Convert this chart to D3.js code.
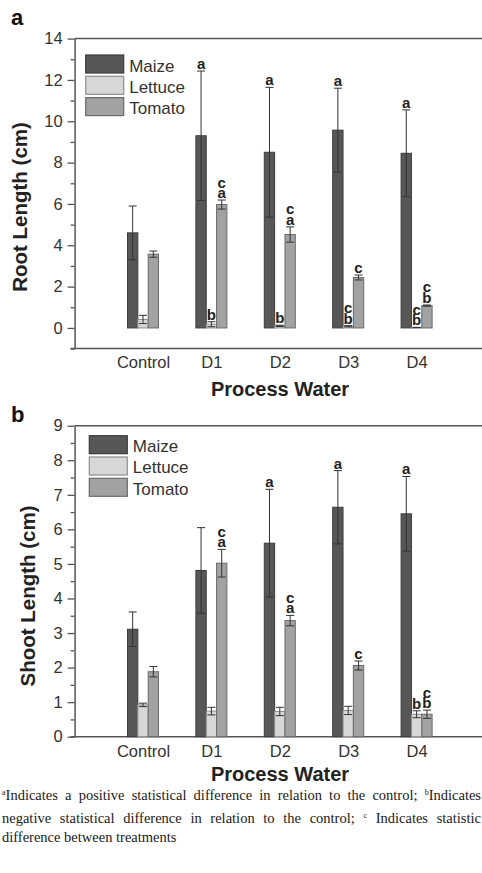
<!DOCTYPE html>
<html>
<head>
<meta charset="utf-8">
<script src="https://cdn.jsdelivr.net/npm/d3@7"></script>
<style>
  body { margin: 0; background: #fff; }
  #wrap { position: relative; width: 482px; height: 873px; overflow: hidden; }
  svg { position: absolute; left: 0; top: 0; }
  .note { position: absolute; left: 2px; width: 479px; font-family: "Liberation Serif", "Times New Roman", serif;
          font-size: 14.5px; line-height: 17px; color: #1a1a1a; white-space: nowrap; }
  .note.just { text-align: justify; text-align-last: justify; white-space: normal; }
  .note sup { font-size: 8px; vertical-align: 5px; line-height: 0; }
</style>
</head>
<body>
<div id="wrap">
<svg width="482" height="873"></svg>
<div class="note just" style="top:787px">
  <sup>a</sup>Indicates a positive statistical difference in relation to the control; <sup>b</sup>Indicates
</div>
<div class="note just" style="top:810px">
  negative statistical difference in relation to the control; <sup>c</sup> Indicates statistic
</div>
<div class="note" style="top:829px">difference between treatments</div>
</div>
<script>
// categories and series
var categories = ["Control", "D1", "D2", "D3", "D4"];
var series = ["Maize", "Lettuce", "Tomato"];

// panel a - root length (cm)
var rootMaize = [4.6, 9.3, 8.5, 9.57, 8.45];
var rootMaizeErr = [1.3, 3.13, 3.14, 2.03, 2.1];
var rootLettuce = [0.41, 0.18, 0.1, 0.08, 0.02];
var rootLettuceErr = [0.2, 0.12, 0.03, 0.03, 0.01];
var rootTomato = [3.57, 5.97, 4.52, 2.44, 1.08];
var rootTomatoErr = [0.15, 0.22, 0.37, 0.12, 0.03];
var rootMaizeSig = ["", "a", "a", "a", "a"];
var rootLettuceSig = ["", "b", "b", "cb", "cb"];
var rootTomatoSig = ["", "ca", "ca", "c", "cb"];
var rootTicks = [0, 2, 4, 6, 8, 10, 12, 14];

// panel b - shoot length (cm)
var shootMaize = [3.11, 4.81, 5.6, 6.64, 6.45];
var shootMaizeErr = [0.5, 1.24, 1.56, 1.06, 1.08];
var shootLettuce = [0.92, 0.74, 0.73, 0.76, 0.65];
var shootLettuceErr = [0.05, 0.11, 0.12, 0.12, 0.1];
var shootTomato = [1.88, 5.02, 3.36, 2.06, 0.65];
var shootTomatoErr = [0.15, 0.4, 0.15, 0.13, 0.12];
var shootMaizeSig = ["", "", "a", "a", "a"];
var shootLettuceSig = ["", "", "", "", "b"];
var shootTomatoSig = ["", "ca", "ca", "c", "cb"];
var shootTicks = [0, 1, 2, 3, 4, 5, 6, 7, 8, 9];

var fills = ["#575757", "#d7d7d7", "#a2a2a2"];
var strokes = ["#3c3c3c", "#8e8e8e", "#6a6a6a"];
var font = '"Liberation Sans", Arial, sans-serif';

var svg = d3.select("svg");

var x = d3.scaleLinear().domain([0, 6]).range([74.6, 485]);
var xSub = d3.scaleBand().domain(series).range([-15.5, 15.5]);

function panel(p) {
  var y = d3.scaleLinear().domain(p.domain).range([p.bottom, p.top]);
  var g = svg.append("g");
  var rows = [];
  series.forEach(function(s, si) {
    categories.forEach(function(c, ci) {
      rows.push({ s: s, si: si, ci: ci, v: p.values[si][ci], e: p.errs[si][ci], sig: p.sigs[si][ci] });
    });
  });

  // frame: top line and x axis line
  g.append("line").attr("x1", x(0)).attr("x2", x(6)).attr("y1", y(p.domain[1])).attr("y2", y(p.domain[1]))
    .attr("stroke", "#555").attr("stroke-width", 1.5);
  g.append("line").attr("x1", x(0) - 4).attr("x2", x(6)).attr("y1", y(p.domain[0])).attr("y2", y(p.domain[0]))
    .attr("stroke", "#555").attr("stroke-width", 1.5);

  // minor ticks
  var minor = [];
  for (var i = 0; i < p.ticks.length - 1; i++) minor.push((p.ticks[i] + p.ticks[i + 1]) / 2);
  if (p.domain[0] < p.ticks[0]) minor.unshift(p.ticks[0] - (p.ticks[1] - p.ticks[0]) / 2);
  g.append("g").attr("transform", "translate(" + x(0) + ",0)")
    .call(d3.axisLeft(y).tickValues(minor).tickSize(4).tickFormat("").tickSizeOuter(0))
    .call(function(a) { a.select(".domain").remove(); a.selectAll("line").attr("stroke", "#555").attr("stroke-width", 1.3); });

  // y axis
  var ya = g.append("g").attr("transform", "translate(" + x(0) + ",0)")
    .call(d3.axisLeft(y).tickValues(p.ticks).tickSize(7).tickSizeOuter(0).tickPadding(5));
  ya.select(".domain").attr("stroke", "#555").attr("stroke-width", 1.5);
  ya.selectAll("line").attr("stroke", "#555").attr("stroke-width", 1.3);
  ya.selectAll("text").style("font-family", font).style("font-size", "16.5px").attr("fill", "#333");

  // x axis labels
  var xa = g.append("g").attr("transform", "translate(0," + y(p.domain[0]) + ")")
    .call(d3.axisBottom(x).tickValues([1, 2, 3, 4, 5]).tickFormat(function(d) { return categories[d - 1]; })
      .tickSize(0).tickPadding(p.labelPad));
  xa.select(".domain").remove();
  xa.selectAll("text").style("font-family", font).style("font-size", "16.5px").attr("fill", "#333");

  // bars
  g.selectAll("rect.bar").data(rows).enter().append("rect")
    .attr("x", function(d) { return x(d.ci + 1) + xSub(d.s); })
    .attr("width", xSub.bandwidth())
    .attr("y", function(d) { return y(d.v); })
    .attr("height", function(d) { return y(0) - y(d.v); })
    .attr("fill", function(d) { return fills[d.si]; })
    .attr("stroke", function(d) { return strokes[d.si]; })
    .attr("stroke-width", 1);

  // error bars
  var eb = g.selectAll("g.err").data(rows).enter().append("g")
    .attr("transform", function(d) { return "translate(" + (x(d.ci + 1) + xSub(d.s) + xSub.bandwidth() / 2) + ",0)"; });
  eb.append("line").attr("y1", function(d) { return y(d.v - d.e); }).attr("y2", function(d) { return y(d.v + d.e); })
    .attr("stroke", "#333").attr("stroke-width", 1);
  eb.append("line").attr("x1", -4).attr("x2", 4).attr("y1", function(d) { return y(d.v + d.e); }).attr("y2", function(d) { return y(d.v + d.e); })
    .attr("stroke", "#333").attr("stroke-width", 1);
  eb.append("line").attr("x1", -4).attr("x2", 4).attr("y1", function(d) { return y(d.v - d.e); }).attr("y2", function(d) { return y(d.v - d.e); })
    .attr("stroke", "#333").attr("stroke-width", 1);

  // significance letters (last char at the bottom)
  eb.each(function(d) {
    var letters = d.sig.split("").reverse();
    var sel = d3.select(this);
    letters.forEach(function(l, k) {
      sel.append("text").attr("x", 0).attr("y", y(d.v + d.e) - 2 - k * 10.5)
        .attr("text-anchor", "middle").style("font-family", font).style("font-weight", "bold")
        .style("font-size", "15px").attr("fill", "#222").text(l);
    });
  });

  // legend
  var lg = g.append("g").attr("transform", "translate(" + p.legend[0] + "," + p.legend[1] + ")");
  series.forEach(function(s, si) {
    lg.append("rect").attr("x", 0).attr("y", si * 21.3).attr("width", 38).attr("height", 18)
      .attr("fill", fills[si]).attr("stroke", strokes[si]).attr("stroke-width", 1.2);
    lg.append("text").attr("x", 43.5).attr("y", si * 21.3 + 16.5).style("font-family", font)
      .style("font-size", "17px").attr("fill", "#333").text(s);
  });

  // titles
  g.append("text").attr("transform", "translate(" + p.yTitle[0] + "," + p.yTitle[1] + ") rotate(-90)")
    .attr("text-anchor", "middle").style("font-family", font).style("font-weight", "bold")
    .style("font-size", "20.5px").attr("fill", "#222").text(p.yLabel);
  g.append("text").attr("x", 280).attr("y", p.xTitleY).attr("text-anchor", "middle")
    .style("font-family", font).style("font-weight", "bold").style("font-size", "20px").attr("fill", "#222")
    .text("Process Water");
  g.append("text").attr("x", 11).attr("y", p.panelY).style("font-family", font).style("font-weight", "bold")
    .style("font-size", "22px").attr("fill", "#111").text(p.panel);
}

panel({
  domain: [-1, 14], top: 38.6, bottom: 348.6, ticks: rootTicks,
  values: [rootMaize, rootLettuce, rootTomato],
  errs: [rootMaizeErr, rootLettuceErr, rootTomatoErr],
  sigs: [rootMaizeSig, rootLettuceSig, rootTomatoSig],
  legend: [85.7, 55], yTitle: [27, 207], yLabel: "Root Length (cm)",
  xTitleY: 396, panelY: 25, panel: "a", labelPad: 8
});

panel({
  domain: [0, 9], top: 425.7, bottom: 736.7, ticks: shootTicks,
  values: [shootMaize, shootLettuce, shootTomato],
  errs: [shootMaizeErr, shootLettuceErr, shootTomatoErr],
  sigs: [shootMaizeSig, shootLettuceSig, shootTomatoSig],
  legend: [89.3, 435.7], yTitle: [35, 596], yLabel: "Shoot Length (cm)",
  xTitleY: 781, panelY: 421.5, panel: "b", labelPad: 9
});
</script>
</body>
</html>
